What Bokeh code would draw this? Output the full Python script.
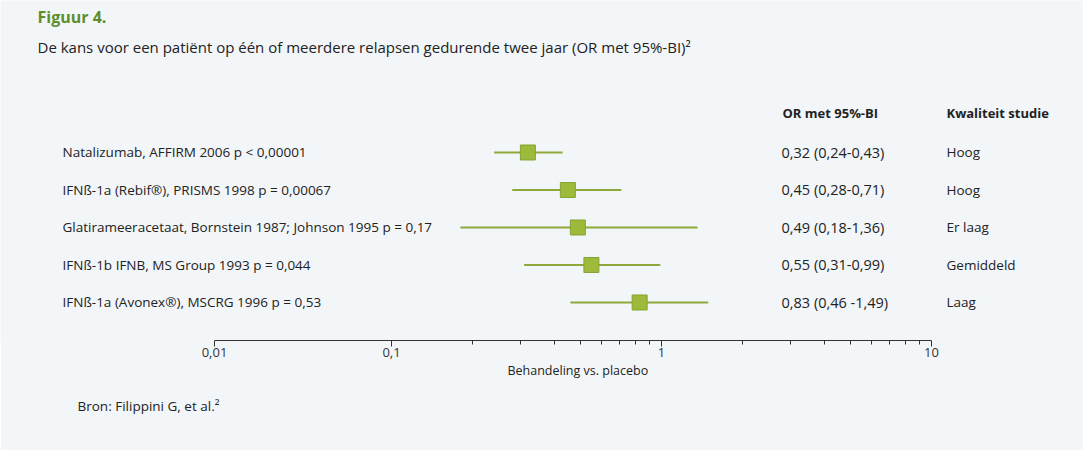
from bokeh.plotting import figure
from bokeh.models import Label, FixedTicker, ColumnDataSource, Range1d, Title
from bokeh.embed import file_html
from bokeh.resources import INLINE

# ---- data ----
studies = [
    "Natalizumab, AFFIRM 2006 p < 0,00001",
    "IFNß-1a (Rebif®), PRISMS 1998 p = 0,00067",
    "Glatirameeracetaat, Bornstein 1987; Johnson 1995 p = 0,17",
    "IFNß-1b IFNB, MS Group 1993 p = 0,044",
    "IFNß-1a (Avonex®), MSCRG 1996 p = 0,53",
]
odds_ratio = [0.32, 0.45, 0.49, 0.55, 0.83]
ci_low = [0.24, 0.28, 0.18, 0.31, 0.46]
ci_high = [0.43, 0.71, 1.36, 0.99, 1.49]
or_text = [
    "0,32 (0,24-0,43)",
    "0,45 (0,28-0,71)",
    "0,49 (0,18-1,36)",
    "0,55 (0,31-0,99)",
    "0,83 (0,46 -1,49)",
]
quality = ["Hoog", "Hoog", "Er laag", "Gemiddeld", "Laag"]
tick_values = [0.1, 1, 10]
tick_labels = ["0,1", "1", "10"]
minor_ticks = [0.2, 0.3, 0.4, 0.5, 0.6, 0.7, 0.8, 0.9, 2, 3, 4, 5, 6, 7, 8, 9]
left_end_label = "0,01"

title = "Figuur 4."
subtitle = "De kans voor een patiënt op één of meerdere relapsen gedurende twee jaar (OR met 95%-BI)²"
header_or = "OR met 95%-BI"
header_q = "Kwaliteit studie"
x_label = "Behandeling vs. placebo"
source_text = "Bron: Filippini G, et al.²"

# ---- layout / style ----
W, H = 1083, 450
BG = "#f3f6f9"
GREEN_LINE = "#8ea83a"
GREEN_FILL = "#9dba3a"
GREEN_EDGE = "#86a432"
TXT = "#222222"
FONT = "Open Sans"

PX_PER_DECADE = 270.0
X_AT_01 = 391.0          # px from left of frame where 0.1 sits
log_start = -1 - X_AT_01 / PX_PER_DECADE
log_end = log_start + W / PX_PER_DECADE
axis_left = 10 ** (-1 - 177.0 / PX_PER_DECADE)   # compressed first decade of the original

n = len(studies)
row_y = [n - i for i in range(n)]

p = figure(width=W, height=H, x_axis_type="log",
           x_range=Range1d(10 ** log_start, 10 ** log_end),
           y_range=Range1d(-0.0133, 9.053),
           output_backend="svg", toolbar_location=None,
           min_border_left=0, min_border_right=0, min_border_top=0,
           min_border_bottom=110)
p.background_fill_color = BG
p.border_fill_color = BG
p.outline_line_color = None
p.xgrid.visible = False
p.ygrid.visible = False
p.yaxis.visible = False

src = ColumnDataSource(dict(y=row_y, orr=odds_ratio, lo=ci_low, hi=ci_high))
p.segment(x0="lo", x1="hi", y0="y", y1="y", source=src,
          line_color=GREEN_LINE, line_width=2)
p.scatter(x="orr", y="y", source=src, marker="square", size=15,
          fill_color=GREEN_FILL, line_color=GREEN_EDGE, line_width=1)

ax = p.xaxis[0]
ax.bounds = (axis_left, 10)
ax.ticker = FixedTicker(ticks=[axis_left] + tick_values, minor_ticks=minor_ticks)
overrides = {axis_left: left_end_label}
for v, t in zip(tick_values, tick_labels):
    overrides[v] = t
ax.major_label_overrides = overrides
ax.axis_line_color = "#333333"
ax.axis_line_width = 1.2
ax.major_tick_in = 0
ax.major_tick_out = 6
ax.minor_tick_in = 0
ax.minor_tick_out = 4
ax.major_tick_line_color = "#333333"
ax.minor_tick_line_color = "#333333"
ax.major_label_text_font = FONT
ax.major_label_text_font_size = "13px"
ax.major_label_text_color = "#333333"
ax.major_label_standoff = 1

p.add_layout(Title(text=x_label, align="left", offset=507, standoff=0,
                   text_font=FONT, text_font_size="12.5px",
                   text_font_style="normal", text_color=TXT), "below")
p.add_layout(Title(text=source_text, align="left", offset=77, standoff=33,
                   text_font=FONT, text_font_size="13.5px",
                   text_font_style="normal", text_color=TXT), "below")


def lab(text, x, y, size="13.5px", color=TXT, style="normal"):
    p.add_layout(Label(x=x, y=y, x_units="screen", y_units="data", text=text,
                       text_font=FONT, text_font_size=size, text_color=color,
                       text_font_style=style, text_baseline="middle",
                       text_align="left"))


lab(title, 37, 8.6, size="16px", color="#5e8e2c", style="bold")
lab(subtitle, 37, 7.8, size="15px")
lab(header_or, 782, 6.04, size="13px", style="bold")
lab(header_q, 946, 6.04, size="13px", style="bold")
for i in range(n):
    lab(studies[i], 62, row_y[i], size="13.5px")
    lab(or_text[i], 781, row_y[i], size="14.5px")
    lab(quality[i], 946, row_y[i], size="13.5px")

open("out.html", "w").write(file_html(p, INLINE))
